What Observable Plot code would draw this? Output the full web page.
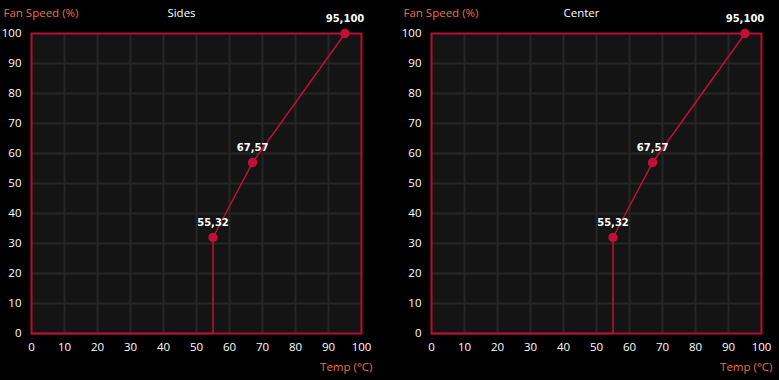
<!DOCTYPE html>
<html><head><meta charset="utf-8">
<script src="https://cdn.jsdelivr.net/npm/d3@7"></script>
<script src="https://cdn.jsdelivr.net/npm/@observablehq/plot@0.6"></script>
<style>
html,body{margin:0;padding:0;background:#000;}
#wrap{display:flex;width:779px;height:380px;background:#000;}
</style></head>
<body><div id="wrap"></div>
<script>
const panels = ["Sides", "Center"];
const curveTemps = [0, 55, 55, 67, 95];
const curveSpeeds = [0, 0, 32, 57, 100];
const pointTemps = [55, 67, 95];
const pointSpeeds = [32, 57, 100];
const xTicks = [0,10,20,30,40,50,60,70,80,90,100];
const yTicks = [0,10,20,30,40,50,60,70,80,90,100];
const yLabel = "Fan Speed (%)";
const xLabel = "Temp (°C)";

const curve = curveTemps.map((t,i)=>({t, s: curveSpeeds[i]}));
const pts = pointTemps.map((t,i)=>({t, s: pointSpeeds[i], label: `${t},${pointSpeeds[i]}`}));

const FRAME = "#b50e38", LINE = "#c0103a", ORANGE = "#e8743b";

function panel(title, width, ml, mr) {
  return Plot.plot({
    width, height: 380,
    marginLeft: ml, marginRight: mr, marginTop: 33, marginBottom: 47,
    style: {background: "#000", fontFamily: "'Open Sans', sans-serif", fontSize: "11.5px", color: "#fff"},
    x: {domain: [0,100], axis: null},
    y: {domain: [0,100], axis: null},
    marks: [
      Plot.frame({fill: "#141414"}),
      Plot.ruleX(xTicks.slice(1,-1), {stroke: "#262626", strokeWidth: 2}),
      Plot.ruleY(yTicks.slice(1,-1), {stroke: "#262626", strokeWidth: 2}),
      Plot.frame({stroke: FRAME, strokeWidth: 2}),
      Plot.axisX({ticks: xTicks, tickSize: 0, tickPadding: 9, fill: "#fff", label: null, fontSize: 11.5}),
      Plot.axisY({ticks: yTicks, tickSize: 0, tickPadding: 10, fill: "#fff", label: null, fontSize: 11.5}),
      Plot.line(curve, {x: "t", y: "s", stroke: LINE, strokeWidth: 1.5}),
      Plot.dot(pts, {x: "t", y: "s", r: 4, fill: LINE, stroke: LINE}),
      Plot.text(pts, {x: "t", y: "s", text: "label", dy: -15, fill: "#fff", fontWeight: "bold", fontFamily: "'DejaVu Sans', sans-serif", fontSize: 10}),
      Plot.text([yLabel], {frameAnchor: "top-left", dx: -28, dy: -25, textAnchor: "start", fill: ORANGE, fontSize: 11.5}),
      Plot.text([title], {frameAnchor: "top", dx: -15, dy: -25, fill: "#fff", fontSize: 11.5}),
      Plot.text([xLabel], {frameAnchor: "bottom-right", dx: 11, dy: 37, textAnchor: "end", fill: ORANGE, fontSize: 11.5})
    ]
  });
}
const wrap = document.getElementById("wrap");
wrap.append(panel(panels[0], 390, 31, 29));
wrap.append(panel(panels[1], 389, 41, 18));
</script></body></html>
